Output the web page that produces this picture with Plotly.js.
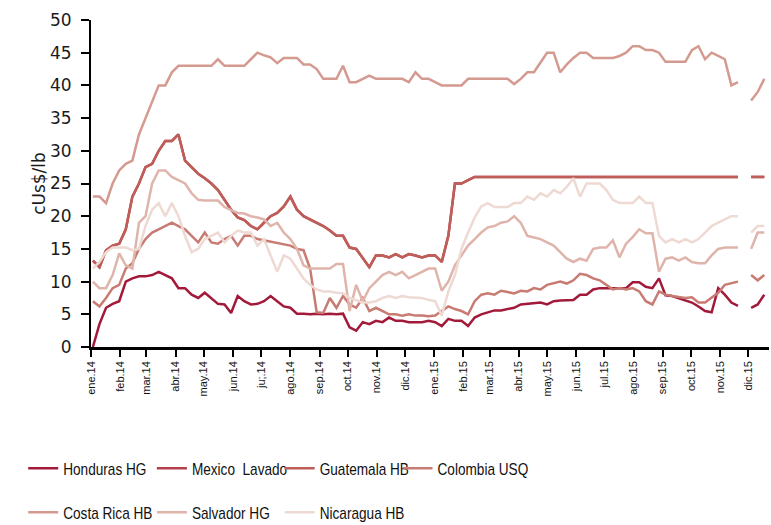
<!DOCTYPE html>
<html>
<head>
<meta charset="utf-8">
<script src="https://cdn.plot.ly/plotly-3.0.1.min.js"></script>
<style>
  html, body { margin: 0; padding: 0; background: #ffffff; }
  #plot { width: 771px; height: 525px; }
</style>
</head>
<body>
<div id="plot"></div>
<script>
/* ===========================================
   Weekly differentials, cUS$/lb (2014-2015)
   =========================================== */

const weeks = [
  '2014-01-03', '2014-01-10', '2014-01-17', '2014-01-24', '2014-01-31', '2014-02-07', '2014-02-14', '2014-02-21', '2014-02-28', '2014-03-07',
  '2014-03-14', '2014-03-21', '2014-03-28', '2014-04-04', '2014-04-11', '2014-04-18', '2014-04-25', '2014-05-02', '2014-05-09', '2014-05-16',
  '2014-05-23', '2014-05-30', '2014-06-06', '2014-06-13', '2014-06-20', '2014-06-27', '2014-07-04', '2014-07-11', '2014-07-18', '2014-07-25',
  '2014-08-01', '2014-08-08', '2014-08-15', '2014-08-22', '2014-08-29', '2014-09-05', '2014-09-12', '2014-09-19', '2014-09-26', '2014-10-03',
  '2014-10-10', '2014-10-17', '2014-10-24', '2014-10-31', '2014-11-07', '2014-11-14', '2014-11-21', '2014-11-28', '2014-12-05', '2014-12-12',
  '2014-12-19', '2014-12-26', '2015-01-02', '2015-01-09', '2015-01-16', '2015-01-23', '2015-01-30', '2015-02-06', '2015-02-13', '2015-02-20',
  '2015-02-27', '2015-03-06', '2015-03-13', '2015-03-20', '2015-03-27', '2015-04-03', '2015-04-10', '2015-04-17', '2015-04-24', '2015-05-01',
  '2015-05-08', '2015-05-15', '2015-05-22', '2015-05-29', '2015-06-05', '2015-06-12', '2015-06-19', '2015-06-26', '2015-07-03', '2015-07-10',
  '2015-07-17', '2015-07-24', '2015-07-31', '2015-08-07', '2015-08-14', '2015-08-21', '2015-08-28', '2015-09-04', '2015-09-11', '2015-09-18',
  '2015-09-25', '2015-10-02', '2015-10-09', '2015-10-16', '2015-10-23', '2015-10-30', '2015-11-06', '2015-11-13', '2015-11-20', '2015-11-27',
  '2015-12-04', '2015-12-11', '2015-12-18'
];

const hondurasHG = [
  0, 3.5, 6, 6.6, 7, 10, 10.5, 10.8, 10.8, 11,
  11.5, 11, 10.5, 9, 9, 8, 7.5, 8.3, 7.5, 6.6,
  6.5, 5.2, 7.8, 7, 6.5, 6.6, 7, 7.8, 7, 6.2,
  6, 5.1, 5.1, 5, 5.1, 5, 5.1, 5, 5.1, 3,
  2.5, 3.8, 3.5, 4, 3.8, 4.5, 4, 4, 3.8, 3.8,
  3.8, 4, 3.8, 3.2, 4.3, 4, 4, 3.2, 4.5, 5,
  5.3, 5.6, 5.6, 5.8, 6, 6.5, 6.6, 6.6, 6.8, 6.5,
  7, 7.1, 7.1, 7.2, 8, 8, 8.8, 9, 9, 9,
  9, 9, 9.9, 9.9, 9.2, 9, 10.5, 7.9, 7.8, 7.5,
  7.2, 6.8, 6.2, 5.5, 5.3, 9, 8, 6.8, 6.3, null,
  6, 6.5, 8
];

const guatemalaHB = [
  13.2, 12.2, 14.8, 15.5, 15.8, 18, 23, 25, 27.5, 28,
  30, 31.5, 31.5, 32.5, 28.5, 27.5, 26.5, 25.8, 25, 24,
  22.5, 21, 19.8, 19.4, 18.5, 18, 19, 20, 20.5, 21.5,
  23, 21, 20, 19.5, 19, 18.5, 17.8, 17, 17, 15.2,
  15, 13.5, 12.2, 14, 14, 13.7, 14.2, 13.7, 14.2, 14,
  13.7, 14, 14, 13, 17, 25, 25, 25.5, 26, 26,
  26, 26, 26, 26, 26, 26, 26, 26, 26, 26,
  26, 26, 26, 26, 26, 26, 26, 26, 26, 26,
  26, 26, 26, 26, 26, 26, 26, 26, 26, 26,
  26, 26, 26, 26, 26, 26, 26, 26, 26, null,
  26, 26, 26
];

// the Mexico line sits exactly under Guatemala in the source chart
const mexicoLavado = guatemalaHB.slice();

const colombiaUSQ = [
  7, 6.2, 7.5, 9, 9.5, 12, 12.8, 15, 16.5, 17.5,
  18, 18.5, 19, 18.5, 18, 17, 16, 17.5, 16, 15.8,
  16.5, 17, 15.5, 17, 17, 16.5, 16.3, 16, 15.8, 15.6,
  15.5, 15, 14.8, 12, 5.3, 5.2, 7.5, 6, 7.8, 6.5,
  6, 7.5, 5.5, 6, 5.5, 5, 5, 4.8, 5, 4.8,
  4.8, 4.7, 4.8, 5.5, 6.2, 5.8, 5.5, 5, 7, 8,
  8.2, 8, 8.6, 8.4, 8.2, 8.6, 8.5, 9, 8.8, 9.5,
  9.8, 10, 9.7, 10.2, 11.2, 11, 10.5, 10.2, 9.5, 8.8,
  9, 8.8, 9, 8.5, 7, 6.5, 8.5, 8, 7.8, 7.6,
  7.5, 7.6, 6.8, 6.8, 7.5, 8.3, 9.5, 9.7, 10, null,
  11, 10.2, 11
];

const costaRicaHB = [
  23, 23, 22, 25, 27, 28, 28.5, 32.5, 35, 37.5,
  40, 40, 42, 43, 43, 43, 43, 43, 43, 44,
  43, 43, 43, 43, 44, 45, 44.6, 44.3, 43.4, 44.2,
  44.2, 44.2, 43.2, 43.2, 42.5, 41, 41, 41, 43, 40.5,
  40.5, 41, 41.5, 41, 41, 41, 41, 41, 40.5, 42,
  41, 41, 40.5, 40, 40, 40, 40, 41, 41, 41,
  41, 41, 41, 41, 40.2, 41, 42, 42, 43.5, 45,
  45, 42, 43.2, 44.2, 45, 45, 44.2, 44.2, 44.2, 44.2,
  44.5, 45, 46, 46, 45.4, 45.4, 45, 43.6, 43.6, 43.6,
  43.6, 45.4, 46, 44, 45, 44.5, 44, 40, 40.5, null,
  37.7, 39, 41
];

const salvadorHG = [
  10, 9, 9, 11, 14.3, 12.5, 12, 19, 20, 25,
  27, 27, 26, 25.5, 25, 23.5, 22.5, 22.4, 22.4, 22.4,
  21.4, 21, 20.5, 20.4, 20, 19.8, 19.5, 18.5, 19, 17.5,
  16.5, 15, 12.5, 12, 12, 12, 12, 12.7, 12.7, 5.5,
  9.5, 7, 9, 10, 11, 11.5, 11, 11.5, 10.5, 11,
  11.5, 12, 12, 8.6, 10, 12.5, 14, 15.5, 16.5, 17.5,
  18.3, 18.5, 19, 19.2, 20, 19, 17, 16.8, 16.5, 16,
  15.5, 14.5, 13.5, 13, 13.5, 13.2, 15, 15.2, 15.2, 16.3,
  13.7, 15.8, 16.8, 18, 17.4, 17.4, 11.5, 13.5, 13.7, 13.2,
  13.7, 13, 12.8, 12.8, 14, 15, 15.2, 15.2, 15.2, null,
  15, 17.5, 17.5
];

const nicaraguaHB = [
  12, 13, 14.5, 15.2, 15.2, 15.2, 14.8, 15, 18.5, 21,
  22, 20, 22, 20, 17, 14.5, 15, 16.5, 17, 17.5,
  16, 17, 17.8, 17.5, 17.5, 15.5, 16.5, 14, 11.5, 14,
  13.5, 12, 10.5, 9.5, 8.8, 8.5, 8.5, 8.3, 8.2, 7.5,
  7.2, 6.8, 6.8, 7, 7.5, 7.8, 7.5, 7.8, 7.6, 7.5,
  7.5, 7.2, 7, 4.8, 8.5, 11, 15, 17.5, 19.8, 21.5,
  22, 21.4, 21.4, 21.4, 22, 22, 23, 22.5, 23.5, 23,
  24, 23.5, 24.5, 25.8, 23, 25, 25, 25, 24, 22.5,
  22, 22, 22, 23, 22, 22, 17, 16, 16.5, 16,
  16.5, 16, 16.5, 17.5, 18.5, 19, 19.5, 20, 20, null,
  17.5, 18.5, 18.5
];

const monthTicks = [
  '2014-01-01', '2014-02-01', '2014-03-01', '2014-04-01', '2014-05-01', '2014-06-01',
  '2014-07-01', '2014-08-01', '2014-09-01', '2014-10-01', '2014-11-01', '2014-12-01',
  '2015-01-01', '2015-02-01', '2015-03-01', '2015-04-01', '2015-05-01', '2015-06-01',
  '2015-07-01', '2015-08-01', '2015-09-01', '2015-10-01', '2015-11-01', '2015-12-01'
];
const monthLabels = [
  'ene.14', 'feb.14', 'mar.14', 'abr.14', 'may.14', 'jun.14',
  'ju;.14', 'ago.14', 'sep.14', 'oct.14', 'nov.14', 'dic.14',
  'ene.15', 'feb.15', 'mar.15', 'abr.15', 'may.15', 'jun.15',
  'jul.15', 'ago.15', 'sep.15', 'oct.15', 'nov.15', 'dic.15'
];

// legend column of each series (the source legend is a 4 x 2 grid)
const series = [
  { name: 'Honduras HG', y: hondurasHG, color: '#a3193a', legend: 'legend' },
  { name: 'Mexico  Lavado', y: mexicoLavado, color: '#b3404a', legend: 'legend2' },
  { name: 'Guatemala HB', y: guatemalaHB, color: '#bf5e59', legend: 'legend3' },
  { name: 'Colombia USQ', y: colombiaUSQ, color: '#c87b72', legend: 'legend4' },
  { name: 'Costa Rica HB', y: costaRicaHB, color: '#d49a90', legend: 'legend' },
  { name: 'Salvador HG', y: salvadorHG, color: '#dfb4aa', legend: 'legend2' },
  { name: 'Nicaragua HB', y: nicaraguaHB, color: '#eed9d3', legend: 'legend3' }
];

const traces = series.map(s => ({
  x: weeks,
  y: s.y,
  name: s.name,
  type: 'scatter',
  mode: 'lines',
  connectgaps: false,
  legend: s.legend,
  legendgroup: s.name,
  line: { color: s.color, width: 2.5 },
  hoverinfo: 'x+y+name'
}));

const sans = '"Liberation Sans", Arial, sans-serif';
const wide = '"DejaVu Sans", Verdana, sans-serif';

function legendColumn(x) {
  return {
    orientation: 'v',
    x: x,
    xanchor: 'left',
    y: -0.317,
    yanchor: 'top',
    tracegroupgap: 19,
    itemwidth: 30,
    bgcolor: 'rgba(0,0,0,0)',
    font: { family: sans, size: 17, color: '#111111' }
  };
}

const layout = {
  width: 771,
  height: 525,
  margin: { l: 91, r: 2, t: 20, b: 178, autoexpand: false },
  paper_bgcolor: '#ffffff',
  plot_bgcolor: '#ffffff',
  showlegend: true,
  legend: legendColumn(-0.1),
  legend2: legendColumn(0.0898),
  legend3: legendColumn(0.2783),
  legend4: legendColumn(0.4521),
  xaxis: {
    type: 'date',
    range: ['2014-01-01', '2015-12-23'],
    tickmode: 'array',
    tickvals: monthTicks,
    ticktext: monthLabels,
    tickangle: -90,
    ticks: 'outside',
    ticklen: 7,
    tickwidth: 2,
    tickcolor: '#000000',
    showline: true,
    linecolor: '#000000',
    linewidth: 2.5,
    showgrid: false,
    zeroline: false,
    tickfont: { family: sans, size: 11, color: '#111111' }
  },
  yaxis: {
    range: [0, 50],
    dtick: 5,
    ticks: 'outside',
    ticklen: 8,
    tickwidth: 2,
    tickcolor: '#000000',
    ticklabelstandoff: 6,
    showline: true,
    linecolor: '#000000',
    linewidth: 2,
    showgrid: false,
    zeroline: false,
    tickfont: { family: wide, size: 17, color: '#1a1a1a' },
    title: { text: 'cUs$/lb', standoff: 0, font: { family: wide, size: 17, color: '#1a1a1a' } }
  }
};

const config = { displayModeBar: false, responsive: false };

Plotly.newPlot('plot', traces, layout, config).then(function(gd) {
  // the source legend is set in a narrow face: squeeze the regular one
  gd.querySelectorAll('.legendtext, .legend2text, .legend3text, .legend4text').forEach(function(t) {
    const w = t.getComputedTextLength();
    t.setAttribute('textLength', (w * 0.8).toFixed(1));
    t.setAttribute('lengthAdjust', 'spacingAndGlyphs');
  });
});
</script>
</body>
</html>
